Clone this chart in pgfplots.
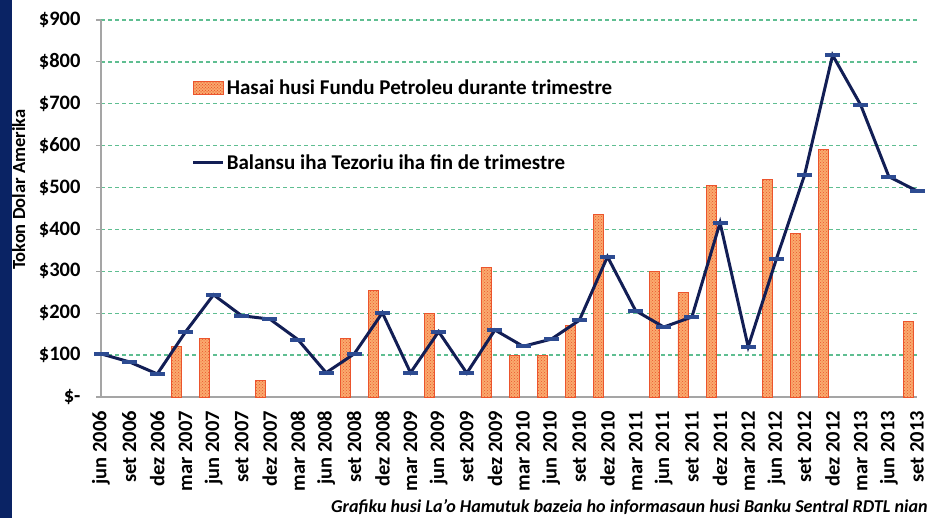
\documentclass[border=0pt]{standalone}
\usepackage{fontspec}
\setmainfont{Carlito}
\usepackage{pgfplots}
\pgfplotsset{compat=1.18}
\usepackage{pgfplotstable}
\usetikzlibrary{patterns}
\definecolor{navyband}{RGB}{10,35,100}
\definecolor{linenavy}{RGB}{18,30,85}
\definecolor{markblue}{RGB}{45,75,145}
\definecolor{barfill}{RGB}{250,170,110}
\definecolor{baredge}{RGB}{235,85,45}
\definecolor{gridgreen}{RGB}{95,190,145}
\definecolor{axisgray}{RGB}{165,165,165}

\pgfplotstableread{
x y
3 120
4 140
6 40
9 140
10 255
12 200
14 310
15 100
16 100
17 170
18 435
20 300
21 250
22 505
24 520
25 390
26 590
29 180
}\bars

\pgfplotstableread{
x y
0 103
1 84
2 55
3 155
4 244
5 194
6 186
7 137
8 58
9 103
10 201
11 58
12 156
13 57
14 160
15 121
16 138
17 183
18 335
19 206
20 167
21 191
22 416
23 120
24 329
25 529
26 816
27 697
28 526
29 492
}\balance

\begin{document}
\begin{tikzpicture}
\path[use as bounding box] (0pt,0pt) rectangle (933pt,518pt);
\fill[navyband] (0pt,0pt) rectangle (12pt,518pt);
\begin{axis}[
  at={(101pt,121pt)}, anchor=south west,
  scale only axis, width=816pt, height=377pt,
  xmin=0, xmax=29, ymin=0, ymax=900,
  axis x line*=bottom, axis y line*=left,
  axis line style={axisgray, line width=1.5pt, -},
  xtick={0,...,29},
  xticklabels={jun 2006, set 2006, dez 2006, mar 2007, jun 2007, set 2007, dez 2007, mar 2008, jun 2008, set 2008, dez 2008, mar 2009, jun 2009, set 2009, dez 2009, mar 2010, jun 2010, set 2010, dez 2010, mar 2011, jun 2011, set 2011, dez 2011, mar 2012, jun 2012, set 2012, dez 2012, mar 2013, jun 2013, set 2013},
  xticklabel style={rotate=90, anchor=east, inner sep=1pt, xshift=-8pt, font=\fontsize{20.5}{22}\selectfont\bfseries},
  ytick={0,100,200,300,400,500,600,700,800,900},
  yticklabels={\$-,\$100,\$200,\$300,\$400,\$500,\$600,\$700,\$800,\$900},
  yticklabel style={xshift=-12pt, font=\fontsize{20.5}{22}\selectfont\bfseries},
  xtick style={draw=none},
  ytick style={draw=axisgray, line width=1.2pt},
  tick align=outside, major tick length=5pt,
  ymajorgrids=true, xmajorgrids=false,
  major grid style={draw=gridgreen, dash pattern=on 4pt off 3pt, line width=1.3pt},
  ylabel={Tokon Dolar Amerika},
  ylabel style={at={(axis description cs:-0.101,0.55)}, anchor=center, font=\fontsize{18.5}{20}\selectfont\bfseries},
  legend cell align=left,
  legend style={at={(axis description cs:0.111,0.848)}, anchor=north west, draw=none, fill=none, row sep=55pt, inner sep=0pt, font=\fontsize{21}{23}\selectfont\bfseries, nodes={inner sep=2pt}},
  clip=false,
]
\addplot[ybar, bar width=10pt, bar shift=-9pt, fill=barfill, draw=baredge, line width=0.8pt,
  postaction={pattern=crosshatch dots, pattern color=baredge},
  legend image code/.code={\draw[fill=barfill, draw=baredge, line width=0.8pt, postaction={pattern=crosshatch dots, pattern color=baredge}] (0pt,-6.5pt) rectangle (30pt,6.5pt);}]
  table[x=x,y=y]{\bars};
\addlegendentry{Hasai husi Fundu Petroleu durante trimestre}
\addplot[linenavy, line width=3pt, mark=-, mark size=7.5pt, mark options={markblue, line width=4pt, solid},
  legend image code/.code={\draw[linenavy, line width=3pt] (0pt,0pt) -- (30pt,0pt);}]
  table[x=x,y=y]{\balance};
\addlegendentry{Balansu iha Tezoriu iha fin de trimestre}
\end{axis}
\node[anchor=east, font=\fontsize{18.1}{20}\selectfont\bfseries\itshape, inner sep=0pt] at (928pt,11pt) {Grafiku husi La'o Hamutuk bazeia ho informasaun husi Banku Sentral RDTL nian};
\end{tikzpicture}
\end{document}
